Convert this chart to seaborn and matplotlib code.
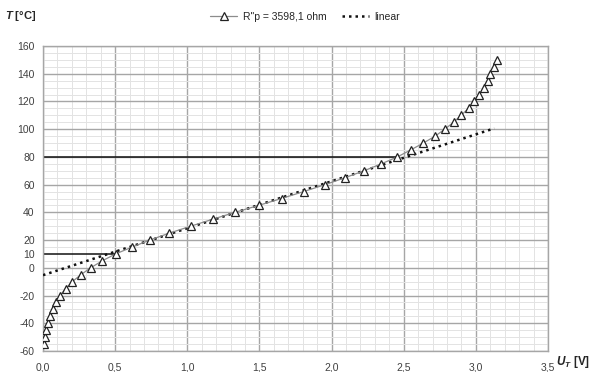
import matplotlib
matplotlib.use("Agg")
import matplotlib.pyplot as plt
import matplotlib.ticker as mticker
import seaborn as sns
import pandas as pd

# ---- data ----
temp_c = [-55, -50, -45, -40, -35, -30, -25, -20, -15, -10, -5, 0, 5, 10, 15, 20,
          25, 30, 35, 40, 45, 50, 55, 60, 65, 70, 75, 80, 85, 90, 95, 100, 105,
          110, 115, 120, 125, 130, 135, 140, 145, 150]
u_t = [0.010, 0.015, 0.022, 0.035, 0.048, 0.066, 0.090, 0.118, 0.157, 0.203,
       0.262, 0.330, 0.410, 0.503, 0.618, 0.740, 0.875, 1.023, 1.175, 1.330,
       1.494, 1.653, 1.807, 1.955, 2.093, 2.225, 2.345, 2.456, 2.548, 2.636,
       2.718, 2.784, 2.846, 2.897, 2.950, 2.985, 3.024, 3.056, 3.082, 3.100,
       3.128, 3.146]
linear_u = [0.0, 3.128]
linear_t = [-5.3, 100.6]
ref_t = [80, 10]
ref_u_end = [2.456, 0.5]
series_label = 'R"p = 3598,1 ohm'
linear_label = "linear"
yticks = [-60, -40, -20, 0, 10, 20, 40, 60, 80, 100, 120, 140, 160]
xticks = [0.0, 0.5, 1.0, 1.5, 2.0, 2.5, 3.0, 3.5]

sns.set_theme(style="white")
plt.rcParams["font.family"] = ["Liberation Sans", "DejaVu Sans"]
plt.rcParams["mathtext.fontset"] = "custom"
plt.rcParams["mathtext.it"] = "Liberation Sans:italic:bold"
plt.rcParams["mathtext.rm"] = "Liberation Sans:bold"

fig = plt.figure(figsize=(6.05, 3.72), dpi=100)
ax = fig.add_axes([43/605, 1-351/372, (548-43)/605, (351-46)/372])

df = pd.DataFrame({"U": u_t, "T": temp_c})
sns.lineplot(data=df, x="U", y="T", ax=ax, sort=False, color="#8c8c8c", lw=0.9,
             marker="^", markersize=5.5, markerfacecolor="white",
             markeredgecolor="#222222", markeredgewidth=0.9, label=series_label,
             zorder=4)
sns.lineplot(x=linear_u, y=linear_t, ax=ax, color="#111111", lw=1.8,
             linestyle=(0, (1, 1.6)), label=linear_label, zorder=3)
ax.hlines(ref_t, [0, 0], ref_u_end, colors="#111111", lw=1.1, zorder=2)

ax.set_xlim(0, 3.5)
ax.set_ylim(-60, 160)
ax.set_xticks(xticks)
ax.set_yticks(yticks)
ax.xaxis.set_minor_locator(mticker.MultipleLocator(0.1))
ax.yaxis.set_minor_locator(mticker.MultipleLocator(5))
ax.xaxis.set_major_formatter(mticker.FuncFormatter(lambda v, p: f"{v:.1f}".replace(".", ",")))
ax.yaxis.set_major_formatter(mticker.FuncFormatter(lambda v, p: f"{int(v)}"))

ax.grid(which="major", color="#a6a6a6", lw=1.0, zorder=0)
ax.grid(which="minor", color="#e3e3e3", lw=0.7, zorder=0)
ax.set_axisbelow(True)
for gl, v in zip(ax.yaxis.get_gridlines(), yticks):
    if v == 10:
        gl.set_visible(False)

ax.tick_params(axis="both", which="major", labelsize=7.5, colors="#404040",
               length=0, pad=6)
ax.tick_params(axis="both", which="minor", direction="in", length=3,
               color="#a6a6a6", width=0.7)
ax.tick_params(axis="x", which="major", pad=8)
for s in ax.spines.values():
    s.set_color("#a6a6a6")
    s.set_linewidth(1.0)

ax.set_xlabel("")
ax.set_ylabel("")
fig.text(5/605, 1-16/372, r"$T$ [°C]", fontsize=8, fontweight="bold",
         color="#262626", ha="left", va="center")
fig.text(556/605, 1-362/372, r"$U_T$ [V]", fontsize=8.5, fontweight="bold",
         color="#262626", ha="left", va="center")

ax.get_legend().remove()
h, l = ax.get_legend_handles_labels()
fig.legend(h, l, loc="center", bbox_to_anchor=(305/605, 1-17/372), ncol=2,
           frameon=False, fontsize=7.5, handlelength=2.6, columnspacing=1.5,
           handletextpad=0.5)

fig.savefig("out.png", dpi=100)
